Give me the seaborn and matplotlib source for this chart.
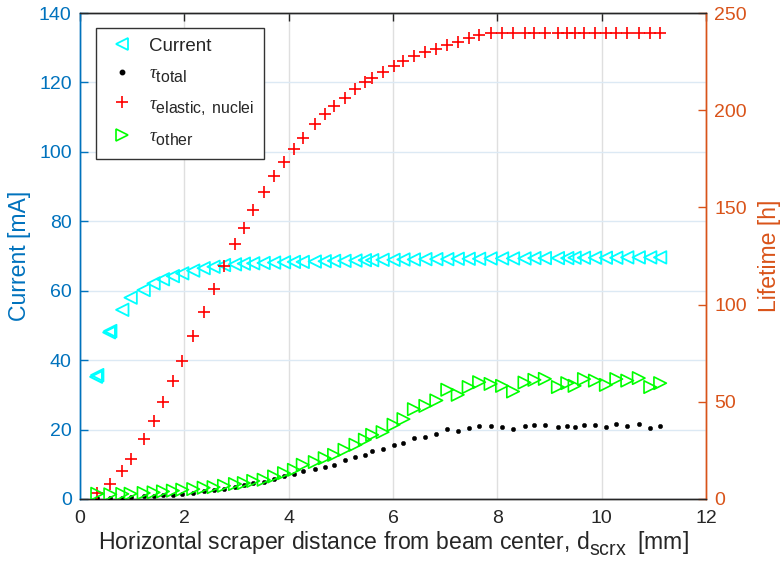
import numpy as np
import matplotlib
matplotlib.use("Agg")
import matplotlib.pyplot as plt
import matplotlib._mathtext as mathtext_core
from matplotlib.lines import Line2D
import seaborn as sns

# Scraper positions [mm]
d_scrx = [0.33, 0.58, 0.81, 0.97, 1.22, 1.41, 1.59, 1.78, 1.96, 2.17,
          2.37, 2.56, 2.76, 2.97, 3.14, 3.32, 3.52, 3.72, 3.91, 4.10,
          4.27, 4.50, 4.69, 4.87, 5.07, 5.28, 5.46, 5.60, 5.80, 6.01,
          6.20, 6.40, 6.62, 6.83, 7.04, 7.24, 7.45, 7.65, 7.87, 8.09,
          8.30, 8.52, 8.71, 8.91, 9.16, 9.34, 9.48, 9.66, 9.87, 10.08,
          10.28, 10.49, 10.71, 10.93, 11.12]

# Beam current [mA]
current = [35.7, 48.4, 54.5, 58.0, 60.2, 62.1, 63.3, 64.2, 65.0, 65.8,
           66.5, 66.9, 67.4, 67.6, 67.8, 67.9, 68.0, 68.1, 68.2, 68.3,
           68.3, 68.4, 68.5, 68.6, 68.6, 68.7, 68.8, 68.8, 68.9, 68.9,
           69.0, 69.0, 69.1, 69.1, 69.1, 69.2, 69.2, 69.2, 69.3, 69.3,
           69.3, 69.3, 69.4, 69.4, 69.4, 69.4, 69.5, 69.5, 69.5, 69.5,
           69.5, 69.6, 69.6, 69.6, 69.6]

# Repeated current readings at the two innermost positions
d_repeat = [0.31, 0.56]
current_repeat = [35.2, 48.0]

# Lifetimes [h]
tau_total = [0.5, 0.5, 0.7, 0.8, 1.3, 1.7, 1.8, 2.2, 2.7, 3.2,
             3.9, 4.4, 5.3, 6.2, 7.0, 8.1, 9.0, 10.4, 11.8, 12.8,
             14.3, 15.5, 16.7, 17.7, 20.0, 21.8, 22.7, 24.8, 25.6, 27.7,
             29.0, 31.6, 32.1, 33.5, 36.0, 35.1, 36.5, 37.5, 37.3, 37.0,
             35.8, 37.5, 38.2, 38.3, 36.8, 37.7, 37.0, 38.3, 38.0, 37.2,
             38.5, 37.8, 38.5, 36.6, 37.3]

tau_elastic = [3.1, 7.7, 14.5, 20.7, 30.8, 39.9, 49.9, 60.8, 71.1, 83.8,
               96.2, 107.9, 119.9, 131.0, 139.6, 148.7, 158.1, 166.1, 173.3, 179.9,
               185.8, 192.8, 198.0, 202.1, 206.5, 211.1, 214.6, 216.7, 219.7, 223.0,
               225.2, 227.8, 230.0, 231.4, 233.8, 235.1, 236.9, 238.6, 239.5, 239.8,
               239.8, 239.8, 239.8, 239.8, 239.8, 239.8, 239.8, 239.8, 239.8, 239.8,
               239.8, 239.8, 239.8, 239.8, 239.8]

tau_other = [2.7, 2.4, 2.6, 2.7, 3.1, 3.4, 3.9, 4.3, 4.8, 5.1,
             5.8, 6.1, 6.8, 7.7, 8.2, 9.3, 9.9, 11.6, 13.3, 15.0,
             17.6, 19.0, 21.0, 22.7, 25.3, 27.9, 30.5, 33.0, 34.4, 38.2,
             41.1, 46.2, 47.9, 50.7, 56.2, 53.6, 57.6, 60.1, 59.2, 58.2,
             55.3, 59.9, 61.3, 61.8, 57.6, 59.6, 58.2, 61.7, 60.9, 58.7,
             61.7, 60.9, 62.2, 57.6, 59.6]

x_ticks = [0, 2, 4, 6, 8, 10, 12]
left_ticks = [0, 20, 40, 60, 80, 100, 120, 140]
right_ticks = [0, 50, 100, 150, 200, 250]

BLUE = "#0072BD"
ORANGE = "#D95319"
DARK = "#262626"

# Larger, lower subscripts (TeX-interpreter look)
mathtext_core.SHRINK_FACTOR = 0.85
mathtext_core.FontConstantsBase.sub1 = 0.55
mathtext_core.FontConstantsBase.subdrop = 0.55

sns.set_style("white")
plt.rcParams["font.family"] = ["Liberation Sans", "DejaVu Sans"]
plt.rcParams["mathtext.fontset"] = "custom"
plt.rcParams["mathtext.rm"] = "Liberation Sans"
plt.rcParams["mathtext.it"] = "Liberation Serif:italic"

fig = plt.figure(figsize=(7.8, 5.71), dpi=100)
ax = fig.add_axes([0.1026, 0.1261, 0.8026, 0.8511])
ax2 = ax.twinx()

# Left axis: beam current
sns.scatterplot(x=d_scrx, y=current, ax=ax, marker="<", s=80,
                facecolor="none", edgecolor="#00FFFF", linewidth=1.3, zorder=3)
sns.scatterplot(x=d_repeat, y=current_repeat, ax=ax, marker="<", s=72,
                facecolor="none", edgecolor="#00FFFF", linewidth=1.6, zorder=3)

# Right axis: lifetimes
sns.scatterplot(x=d_scrx, y=tau_total, ax=ax2, marker="o", s=10,
                color="black", edgecolor="black", linewidth=0.3, zorder=3)
sns.scatterplot(x=d_scrx, y=tau_elastic, ax=ax2, marker="+", s=85,
                color="#FF0000", linewidth=1.2, zorder=3)
sns.scatterplot(x=d_scrx, y=tau_other, ax=ax2, marker=">", s=80,
                facecolor="none", edgecolor="#00FF00", linewidth=1.2, zorder=3)

ax.set_xlim(0, 12)
ax.set_ylim(0, 140)
ax2.set_ylim(0, 250)
ax.set_xticks(x_ticks)
ax.set_yticks(left_ticks)
ax2.set_yticks(right_ticks)

# Grid: vertical lines grey, horizontal lines follow the left axis colour
ax.set_axisbelow(True)
ax.xaxis.grid(True, color="#DFDFDF", linewidth=1.0)
ax.yaxis.grid(True, color="#DCE9F4", linewidth=1.0)
ax2.grid(False)

for a in (ax, ax2):
    a.spines["top"].set_color(DARK)
    a.spines["bottom"].set_color(DARK)
    a.spines["left"].set_color(BLUE)
    a.spines["right"].set_color(ORANGE)
    for s in a.spines.values():
        s.set_linewidth(1.0)
        s.set_visible(True)

ax.tick_params(axis="x", direction="in", length=6, width=1, colors=DARK,
               labelsize=14, top=True, pad=8, labelcolor=DARK)
ax.tick_params(axis="y", direction="in", length=6, width=1, colors=BLUE,
               labelsize=14, pad=6)
ax2.tick_params(axis="y", direction="in", length=6, width=1, colors=ORANGE,
                labelsize=14, pad=6)

ax.set_xlabel(r"Horizontal scraper distance from beam center, d$_{\mathrm{scrx}}\ $ [mm]",
              fontsize=16.6, color=DARK, labelpad=2)
ax.set_ylabel("Current [mA]", fontsize=16.6, color=BLUE, labelpad=6)
ax2.set_ylabel("Lifetime [h]", fontsize=16.6, color=ORANGE, labelpad=8)

handles = [
    Line2D([], [], linestyle="none", marker="<", markersize=9,
           markerfacecolor="none", markeredgecolor="#00FFFF", markeredgewidth=1.3),
    Line2D([], [], linestyle="none", marker="o", markersize=3.2,
           color="black"),
    Line2D([], [], linestyle="none", marker="+", markersize=9.2,
           color="#FF0000", markeredgewidth=1.2),
    Line2D([], [], linestyle="none", marker=">", markersize=9,
           markerfacecolor="none", markeredgecolor="#00FF00", markeredgewidth=1.2),
]
labels = ["Current", r"$\tau_{\mathrm{total}}$",
          r"$\tau_{\mathrm{elastic,\ nuclei}}$", r"$\tau_{\mathrm{other}}$"]
leg = ax2.legend(handles, labels, loc="upper left", bbox_to_anchor=(0.025, 0.970),
                 borderaxespad=0, fontsize=13.5, frameon=True, fancybox=False,
                 edgecolor="#333333", framealpha=1, labelspacing=0.55,
                 handlelength=1.7, handletextpad=0.6, borderpad=0.55)
leg.get_frame().set_linewidth(1.0)

fig.savefig("out.png", dpi=100)
